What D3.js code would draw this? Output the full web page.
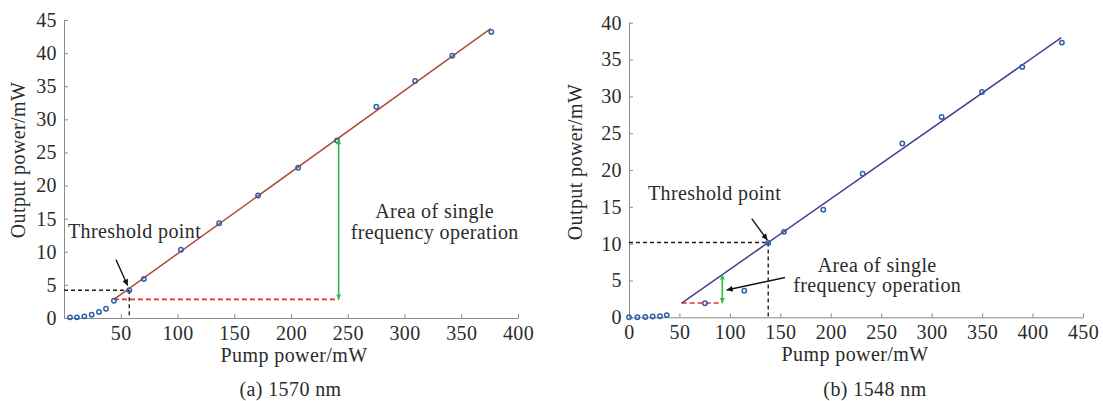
<!DOCTYPE html>
<html>
<head>
<meta charset="utf-8">
<script src="https://cdn.jsdelivr.net/npm/d3@7"></script>
<style>
  body { margin: 0; background: #fff; }
</style>
</head>
<body>
<svg id="chart" width="1103" height="401"></svg>
<script>
// (a) 1570 nm
var pumpA = [5.3, 11.4, 17.9, 24.4, 30.8, 37, 44, 57.5, 70.4, 103, 136.7, 171, 206.3, 240.6, 275.2, 309.3, 342.1, 376.5];
var outA = [0.1, 0.1, 0.25, 0.5, 0.9, 1.4, 2.6, 4.2, 5.9, 10.3, 14.3, 18.5, 22.7, 26.8, 31.9, 35.8, 39.6, 43.2];
var fitA = [[44, 2.8], [375.9, 43.7]];
var thresholdA = [57.5, 4.2];
var areaA = { x: 242, y0: 2.8, y1: 27.0 };
var xTicksA = [50, 100, 150, 200, 250, 300, 350, 400];
var yTicksA = [0, 5, 10, 15, 20, 25, 30, 35, 40, 45];

// (b) 1548 nm
var pumpB = [0, 8.3, 16.2, 23.5, 30.7, 37.4, 75.3, 114.3, 138, 153.6, 192.6, 231.6, 270.9, 309.9, 349.9, 389.8, 429.1];
var outB = [0, 0, 0.05, 0.1, 0.15, 0.3, 1.9, 3.6, 10.1, 11.6, 14.6, 19.5, 23.6, 27.2, 30.6, 34.0, 37.3];
var fitB = [[52.2, 1.94], [428.5, 37.96]];
var thresholdB = [138, 10.15];
var areaB = { x: 92.5, y0: 1.94, y1: 5.8 };
var xTicksB = [0, 50, 100, 150, 200, 250, 300, 350, 400, 450];
var yTicksB = [0, 5, 10, 15, 20, 25, 30, 35, 40];

var FONT = "'Liberation Serif', 'Times New Roman', serif";
var svg = d3.select("#chart");

var defs = svg.append("defs");
function marker(id, color, w, h) {
  defs.append("marker")
    .attr("id", id)
    .attr("viewBox", "0 0 10 10")
    .attr("refX", 10).attr("refY", 5)
    .attr("markerWidth", w).attr("markerHeight", h)
    .attr("markerUnits", "userSpaceOnUse")
    .attr("orient", "auto-start-reverse")
    .append("path")
    .attr("d", "M0,0 L10,5 L0,10 z")
    .attr("fill", color);
}
marker("arrGreen", "#2dbb4a", 6, 5);
marker("arrBlack", "#111", 8, 6);

function label(sel, size) {
  return sel.style("font-family", FONT)
    .style("font-size", size + "px")
    .style("letter-spacing", "0.4px")
    .attr("fill", "#2b2b2b");
}

function panel(cfg) {
  var x = d3.scaleLinear().domain(cfg.xDomain).range(cfg.xRange);
  var y = d3.scaleLinear().domain(cfg.yDomain).range(cfg.yRange);
  var g = svg.append("g");

  var xAxis = g.append("g")
    .attr("transform", "translate(0," + cfg.yRange[0] + ")")
    .call(d3.axisBottom(x).tickValues(cfg.xTicks).tickSizeInner(-4).tickSizeOuter(0).tickPadding(8));
  var yAxis = g.append("g")
    .attr("transform", "translate(" + cfg.xRange[0] + ",0)")
    .call(d3.axisLeft(y).tickValues(cfg.yTicks).tickSizeInner(-4).tickSizeOuter(0).tickPadding(7));
  [xAxis, yAxis].forEach(function (a) {
    a.attr("font-family", null);
    a.select(".domain").attr("stroke", "#8a8a8a");
    a.selectAll(".tick line").attr("stroke", "#8a8a8a");
    label(a.selectAll("text"), 20);
  });

  // dashed guides
  g.append("line")
    .attr("x1", x(cfg.xDomain[0])).attr("y1", y(cfg.threshold[1]))
    .attr("x2", x(cfg.threshold[0])).attr("y2", y(cfg.threshold[1]))
    .attr("stroke", "#222").attr("stroke-width", 1.4).attr("stroke-dasharray", "4,3");
  g.append("line")
    .attr("x1", x(cfg.threshold[0])).attr("y1", y(cfg.threshold[1]))
    .attr("x2", x(cfg.threshold[0])).attr("y2", y(0))
    .attr("stroke", "#222").attr("stroke-width", 1.4).attr("stroke-dasharray", "4,3");
  g.append("line")
    .attr("x1", x(cfg.fit[0][0])).attr("y1", y(cfg.fit[0][1]))
    .attr("x2", x(cfg.area.x)).attr("y2", y(cfg.area.y0))
    .attr("stroke", "#ec2b2b").attr("stroke-width", 1.7).attr("stroke-dasharray", "5,3");

  // fit line
  g.append("path")
    .datum(cfg.fit)
    .attr("d", d3.line().x(function (d) { return x(d[0]); }).y(function (d) { return y(d[1]); }))
    .attr("fill", "none")
    .attr("stroke", cfg.lineColor)
    .attr("stroke-width", 1.5);

  // measured points
  g.selectAll(".pt")
    .data(cfg.pump)
    .enter()
    .append("circle")
    .attr("cx", function (d) { return x(d); })
    .attr("cy", function (d, i) { return y(cfg.out[i]); })
    .attr("r", 2.2)
    .attr("fill", "none")
    .attr("stroke", "#2f5faa")
    .attr("stroke-width", 1.5);

  // green double arrow
  g.append("line")
    .attr("x1", x(cfg.area.x)).attr("y1", y(cfg.area.y0))
    .attr("x2", x(cfg.area.x)).attr("y2", y(cfg.area.y1))
    .attr("stroke", "#2dbb4a").attr("stroke-width", 1.6)
    .attr("marker-start", "url(#arrGreen)")
    .attr("marker-end", "url(#arrGreen)");

  // black pointer arrows
  cfg.arrows.forEach(function (a) {
    g.append("line")
      .attr("x1", x(a[0])).attr("y1", y(a[1]))
      .attr("x2", x(a[2])).attr("y2", y(a[3]))
      .attr("stroke", "#111").attr("stroke-width", 1.4)
      .attr("marker-end", "url(#arrBlack)");
  });

  // annotation texts
  cfg.notes.forEach(function (n) {
    label(g.append("text"), 20)
      .attr("x", x(n.x)).attr("y", y(n.y))
      .attr("text-anchor", n.anchor)
      .text(n.text);
  });

  // axis titles and caption
  label(g.append("text"), 20)
    .attr("x", cfg.xTitle[0]).attr("y", cfg.xTitle[1])
    .attr("text-anchor", "middle")
    .text("Pump power/mW");
  label(g.append("text"), 20)
    .attr("transform", "translate(" + cfg.yTitle[0] + "," + cfg.yTitle[1] + ")rotate(-90)")
    .attr("text-anchor", "middle")
    .text("Output power/mW");
  label(g.append("text"), 20)
    .attr("x", cfg.caption[0]).attr("y", cfg.caption[1])
    .attr("text-anchor", "middle")
    .text(cfg.captionText);
}

panel({
  xDomain: [0, 400], xRange: [64, 518],
  yDomain: [0, 45], yRange: [318, 20],
  xTicks: xTicksA, yTicks: yTicksA,
  pump: pumpA, out: outA, fit: fitA, threshold: thresholdA, area: areaA,
  lineColor: "#b4493a",
  arrows: [[45.8, 8.8, 56.1, 4.9]],
  notes: [
    { x: 3.5, y: 12.1, anchor: "start", text: "Threshold point" },
    { x: 326.6, y: 15.1, anchor: "middle", text: "Area of single" },
    { x: 326.6, y: 11.9, anchor: "middle", text: "frequency operation" }
  ],
  xTitle: [294, 362], yTitle: [25, 160],
  caption: [290.5, 396], captionText: "(a) 1570 nm"
});

panel({
  xDomain: [0, 450], xRange: [629, 1083],
  yDomain: [0, 40], yRange: [317.3, 22.7],
  xTicks: xTicksB, yTicks: yTicksB,
  pump: pumpB, out: outB, fit: fitB, threshold: thresholdB, area: areaB,
  lineColor: "#4b3d8f",
  arrows: [[121.6, 13.4, 137.1, 10.5], [154.6, 5.4, 96.8, 3.7]],
  notes: [
    { x: 18.8, y: 15.9, anchor: "start", text: "Threshold point" },
    { x: 246, y: 6.15, anchor: "middle", text: "Area of single" },
    { x: 246, y: 3.43, anchor: "middle", text: "frequency operation" }
  ],
  xTitle: [855, 361], yTitle: [582, 162],
  caption: [875, 396], captionText: "(b) 1548 nm"
});
</script>
</body>
</html>
